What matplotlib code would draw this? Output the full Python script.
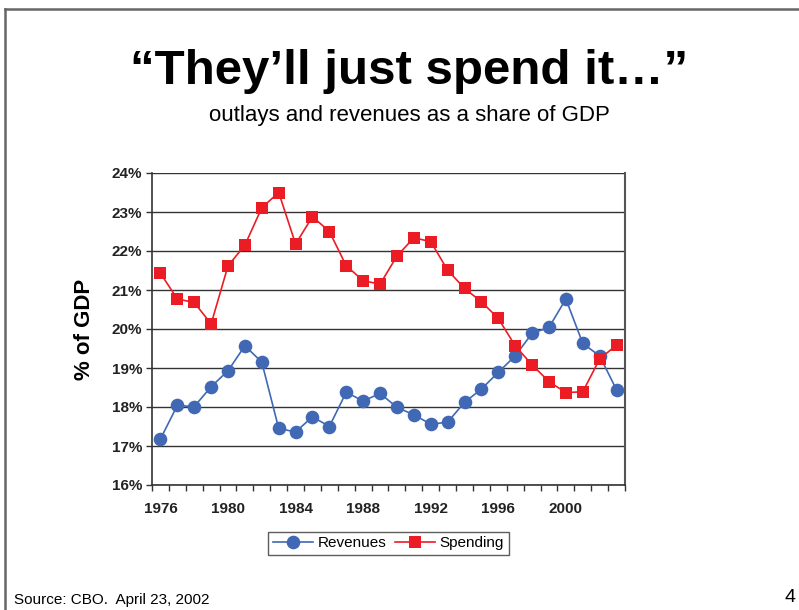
import matplotlib.pyplot as plt
from matplotlib.lines import Line2D
from matplotlib.ticker import FixedLocator, FuncFormatter

plt.rcParams['font.family'] = ['Liberation Sans', 'DejaVu Sans']

years = list(range(1976, 2004))
revenues = [17.18, 18.04, 18.01, 18.52, 18.93, 19.57, 19.15, 17.45, 17.36, 17.75,
            17.50, 18.38, 18.15, 18.35, 17.99, 17.80, 17.56, 17.61, 18.12, 18.46,
            18.89, 19.31, 19.89, 20.04, 20.77, 19.63, 19.31, 18.44]
spending = [21.43, 20.77, 20.68, 20.13, 21.62, 22.15, 23.11, 23.50, 22.18, 22.88,
            22.50, 21.62, 21.24, 21.15, 21.87, 22.34, 22.24, 21.51, 21.04, 20.70,
            20.27, 19.57, 19.08, 18.65, 18.37, 18.39, 19.23, 19.59]
label_years = [1976, 1980, 1984, 1988, 1992, 1996, 2000]

blue = '#4168b4'
red = '#ec1c24'
grid = '#333333'

fig = plt.figure(figsize=(7.99, 6.10), dpi=100)
ax = fig.add_axes([152 / 799, 1 - 485 / 610, (625 - 152) / 799, (485 - 173) / 610])

ax.plot(years, revenues, color=blue, lw=1.2, marker='o', ms=9.8,
        markeredgewidth=0, label='Revenues', zorder=3)
ax.plot(years, spending, color=red, lw=1.2, marker='s', ms=8.8,
        markeredgewidth=0, label='Spending', zorder=3)

ax.set_xlim(1975.5, 2003.5)
ax.set_ylim(16, 24)
ax.set_yticks(range(16, 25))
ax.yaxis.set_major_formatter(FuncFormatter(lambda v, p: f'{int(v)}%'))
ax.set_xticks(label_years)
ax.xaxis.set_minor_locator(FixedLocator([y + 0.5 for y in range(1975, 2004)]))
ax.tick_params(axis='x', which='major', length=0, pad=12)
ax.tick_params(axis='x', which='minor', length=4, width=1, color=grid)
ax.tick_params(axis='y', length=4, width=1, color=grid, pad=3)
for lab in ax.get_xticklabels() + ax.get_yticklabels():
    lab.set_fontweight('bold')
    lab.set_fontsize(11)
    lab.set_color('#222222')

ax.grid(axis='y', color=grid, lw=1)
ax.set_axisbelow(True)
for s in ax.spines.values():
    s.set_color(grid)
    s.set_linewidth(1.2)
ax.spines['top'].set_visible(False)
ax.spines['right'].set_color('#555555')
ax.spines['right'].set_linewidth(1.5)

ax.set_ylabel('% of GDP', fontsize=16, fontweight='bold', labelpad=12)

leg = ax.legend(loc='upper center', bbox_to_anchor=(0.5, -0.125), ncol=2,
                frameon=True, fancybox=False, fontsize=11, handlelength=2.6,
                columnspacing=0.6, handletextpad=0.3, borderpad=0.3)
leg.get_frame().set_edgecolor('#333333')
leg.get_frame().set_linewidth(1)

fig.text(0.512, 1 - 72 / 610, '\u201cThey\u2019ll just spend it\u2026\u201d',
         ha='center', va='center', fontsize=35.5, fontweight='bold')
fig.text(0.512, 1 - 115 / 610, 'outlays and revenues as a share of GDP',
         ha='center', va='center', fontsize=16)
fig.text(14 / 799, 1 - 600 / 610, 'Source: CBO.  April 23, 2002',
         ha='left', va='center', fontsize=11)
fig.text(790 / 799, 1 - 597 / 610, '4', ha='center', va='center', fontsize=14)

# page border: top and left edges only
fig.add_artist(Line2D([5 / 799, 1], [1 - 9 / 610, 1 - 9 / 610],
                      color='#666666', lw=1.8, transform=fig.transFigure))
fig.add_artist(Line2D([5 / 799, 5 / 799], [0, 1 - 9 / 610],
                      color='#666666', lw=1.8, transform=fig.transFigure))

fig.savefig('out.png', dpi=100)
